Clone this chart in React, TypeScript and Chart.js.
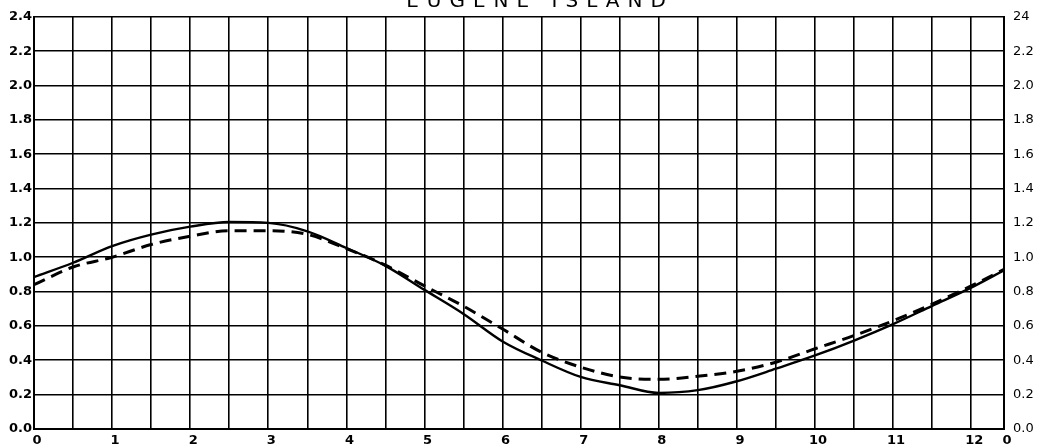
import React, { useEffect, useRef } from "react";
import { Chart, registerables } from "chart.js";

Chart.register(...registerables);

const TITLE = "EUGENE ISLAND";
const HOURS = [0, 0.5, 1, 1.5, 2, 2.5, 3, 3.5, 4, 4.5, 5, 5.5, 6, 6.5, 7, 7.5, 8, 8.5, 9, 9.5, 10, 10.5, 11, 11.5, 12, 12.42];
const SOLID = [0.885, 0.968, 1.065, 1.132, 1.178, 1.205, 1.2, 1.151, 1.054, 0.95, 0.81, 0.67, 0.51, 0.399, 0.303, 0.255, 0.21, 0.226, 0.278, 0.351, 0.428, 0.515, 0.611, 0.717, 0.823, 0.924];
const DASHED = [0.84, 0.943, 1.0, 1.074, 1.122, 1.155, 1.155, 1.133, 1.05, 0.954, 0.833, 0.715, 0.582, 0.447, 0.36, 0.303, 0.289, 0.307, 0.336, 0.389, 0.467, 0.544, 0.63, 0.727, 0.833, 0.929];
const X_TICKS = [0, 0.5, 1, 1.5, 2, 2.5, 3, 3.5, 4, 4.5, 5, 5.5, 6, 6.5, 7, 7.5, 8, 8.5, 9, 9.5, 10, 10.5, 11, 11.5, 12, 12.42];
const X_LABELS = ["0", "", "1", "", "2", "", "3", "", "4", "", "5", "", "6", "", "7", "", "8", "", "9", "", "10", "", "11", "", "12", "0"];
const Y_TICKS = [0, 0.2, 0.4, 0.6, 0.8, 1.0, 1.2, 1.4, 1.6, 1.8, 2.0, 2.2, 2.4];
const Y_LEFT_LABELS = ["0.0", "0.2", "0.4", "0.6", "0.8", "1.0", "1.2", "1.4", "1.6", "1.8", "2.0", "2.2", "2.4"];
const Y_RIGHT_LABELS = ["0.0", "0.2", "0.4", "0.6", "0.8", "1.0", "1.2", "1.4", "1.6", "1.8", "2.0", "2.2", "24"];

const titlePlugin = {
  id: "paperTitle",
  afterDraw(chart: any) {
    const ctx = chart.ctx;
    ctx.save();
    ctx.fillStyle = "#000";
    ctx.font = "20px 'DejaVu Sans'";
    (ctx as any).letterSpacing = "8px";
    ctx.textAlign = "center";
    ctx.textBaseline = "alphabetic";
    ctx.fillText(TITLE, 540, 7);
    ctx.restore();
  },
};

export default function App() {
  const ref = useRef<HTMLCanvasElement | null>(null);
  useEffect(() => {
    document.body.style.margin = "0";
    const canvas = ref.current!;
    const tickFont = { family: "'DejaVu Sans'", size: 13, weight: "bold" as const };
    const chart = new Chart(canvas, {
      type: "line",
      data: {
        datasets: [
          {
            data: HOURS.map((h, i) => ({ x: h, y: SOLID[i] })),
            borderColor: "#000",
            borderWidth: 2.4,
            pointRadius: 0,
            cubicInterpolationMode: "monotone",
            fill: false,
          },
          {
            data: HOURS.map((h, i) => ({ x: h, y: DASHED[i] })),
            borderColor: "#000",
            borderWidth: 3,
            borderDash: [12, 7],
            pointRadius: 0,
            cubicInterpolationMode: "monotone",
            fill: false,
          },
        ],
      },
      options: {
        responsive: false,
        animation: false,
        devicePixelRatio: 1,
        layout: { padding: { top: 14, left: 0, right: 0, bottom: 0 } },
        plugins: { legend: { display: false }, tooltip: { enabled: false }, title: { display: false } },
        scales: {
          x: {
            type: "linear",
            min: 0,
            max: 12.42,
            afterBuildTicks: (s: any) => {
              s.ticks = X_TICKS.map((v) => ({ value: v }));
            },
            afterFit: (s: any) => {
              s.height = 19;
            },
            ticks: {
              autoSkip: false,
              maxRotation: 0,
              padding: 4,
              labelOffset: 3,
              color: "#000",
              font: tickFont,
              callback: (v: any) => {
                const i = X_TICKS.indexOf(Number(v));
                return i >= 0 ? X_LABELS[i] : "";
              },
            },
            grid: { color: "#000", lineWidth: 1.6, drawTicks: false },
            border: { color: "#000", width: 2 },
          },
          y: {
            type: "linear",
            position: "left",
            min: 0,
            max: 2.4,
            afterBuildTicks: (s: any) => {
              s.ticks = Y_TICKS.map((v) => ({ value: v }));
            },
            afterFit: (s: any) => {
              s.width = 34;
            },
            ticks: {
              padding: 2,
              color: "#000",
              font: tickFont,
              callback: (v: any) => {
                const i = Y_TICKS.findIndex((t) => Math.abs(t - Number(v)) < 1e-6);
                return i >= 0 ? Y_LEFT_LABELS[i] : "";
              },
            },
            grid: { color: "#000", lineWidth: 1.6, drawTicks: false },
            border: { color: "#000", width: 2 },
          },
          y2: {
            type: "linear",
            position: "right",
            min: 0,
            max: 2.4,
            afterBuildTicks: (s: any) => {
              s.ticks = Y_TICKS.map((v) => ({ value: v }));
            },
            afterFit: (s: any) => {
              s.width = 37;
            },
            ticks: {
              padding: 9,
              color: "#000",
              font: { family: "'DejaVu Sans'", size: 13 },
              callback: (v: any) => {
                const i = Y_TICKS.findIndex((t) => Math.abs(t - Number(v)) < 1e-6);
                return i >= 0 ? Y_RIGHT_LABELS[i] : "";
              },
            },
            grid: { display: false, drawTicks: false },
            border: { color: "#000", width: 2 },
          },
        },
      },
      plugins: [titlePlugin],
    } as any);
    return () => chart.destroy();
  }, []);
  return (
    <div style={{ position: "absolute", left: 0, top: 0, width: 1041, height: 448, background: "#fff" }}>
      <canvas ref={ref} width={1041} height={448} style={{ display: "block", width: 1041, height: 448 }} />
    </div>
  );
}
